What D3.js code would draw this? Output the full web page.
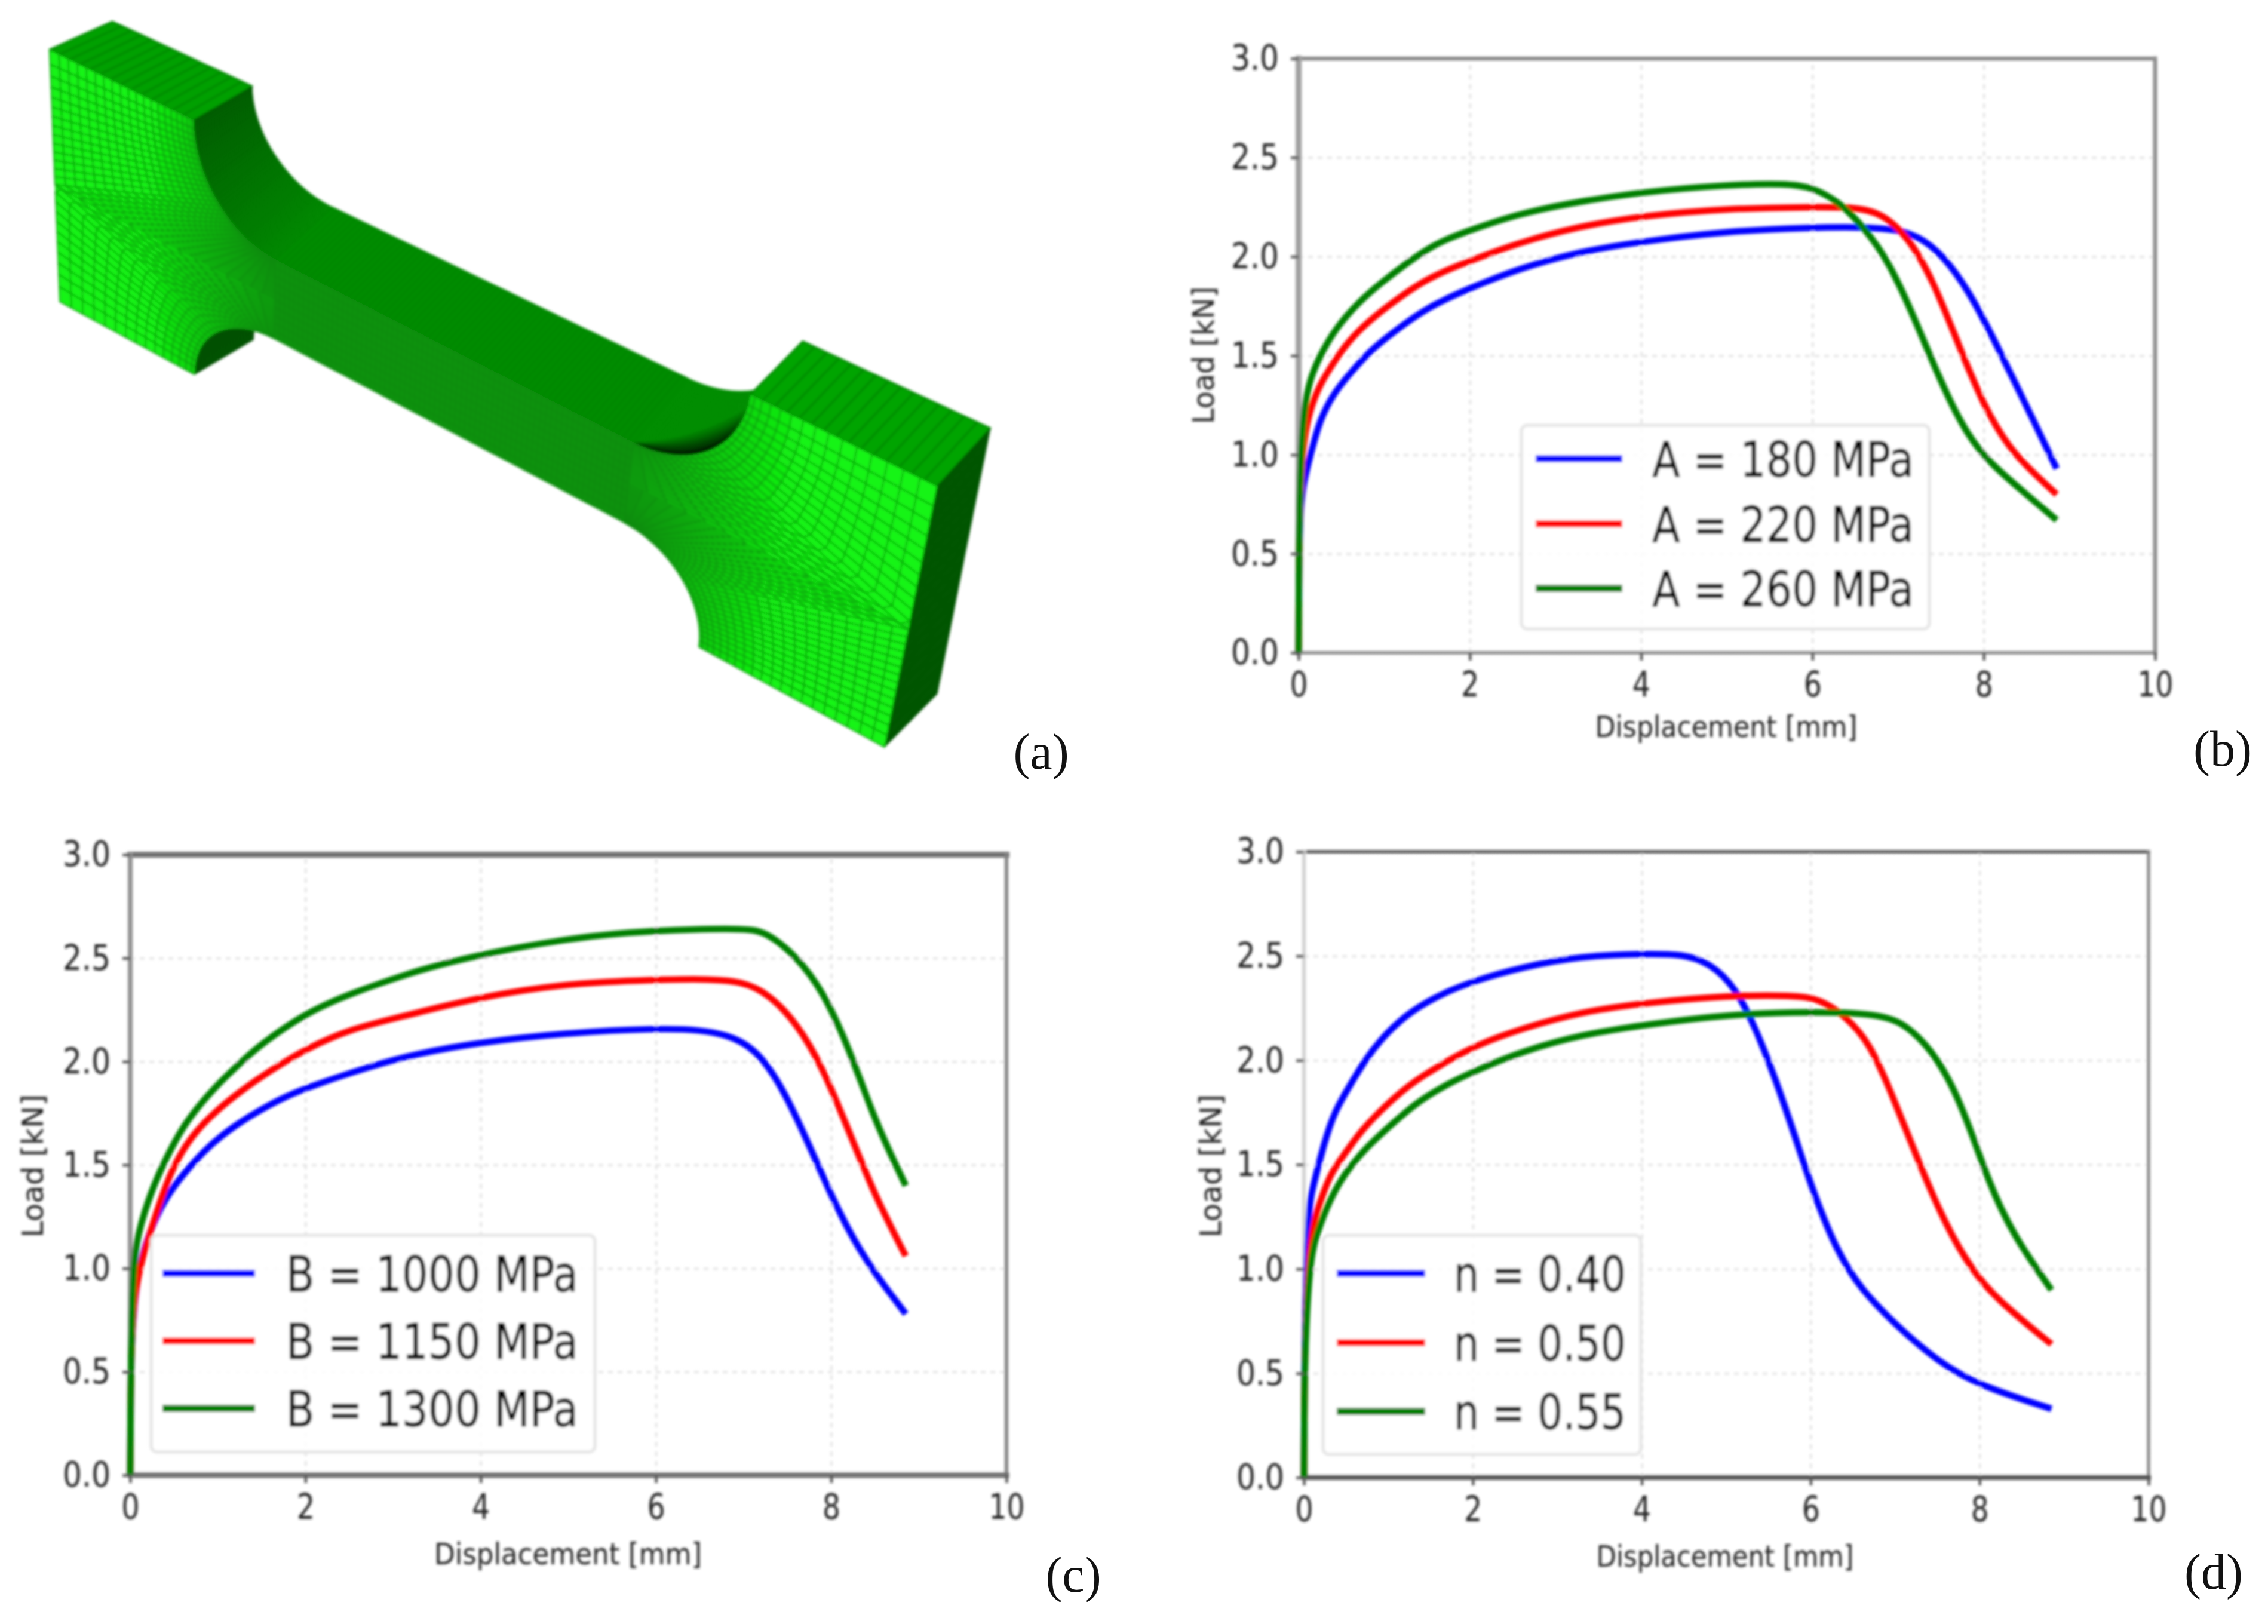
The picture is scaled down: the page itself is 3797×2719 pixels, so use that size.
<!DOCTYPE html>
<html>
<head>
<meta charset="utf-8">
<script src="https://cdn.jsdelivr.net/npm/d3@7"></script>
<style>
html, body { margin: 0; padding: 0; background: #fff; }
svg { display: block; }
</style>
</head>
<body>
<script>
// ticks shared by the three plots
var xTicks = [0, 2, 4, 6, 8, 10];
var yTicks = [0, 0.5, 1, 1.5, 2, 2.5, 3];

// panel (b), yield stress A
var labelsA = ['A = 180 MPa', 'A = 220 MPa', 'A = 260 MPa'];
var dispA180 = [0, 0.005, 0.015, 0.05, 0.14, 0.25, 0.41, 0.6, 0.835, 1.1, 1.5, 1.98, 2.57, 3.24, 3.9, 5, 6, 6.5, 7, 7.3, 7.6, 7.9, 8.2, 8.5, 8.85];
var loadA180 = [0, 0.4, 0.7, 0.85, 1, 1.18, 1.31, 1.41, 1.525, 1.617, 1.744, 1.837, 1.94, 2.02, 2.07, 2.13, 2.147, 2.15, 2.14, 2.09, 1.97, 1.77, 1.51, 1.245, 0.93];
var dispA220 = [0, 0.005, 0.015, 0.04, 0.1, 0.22, 0.355, 0.54, 0.755, 1.02, 1.5, 1.98, 2.57, 3.24, 4.01, 5, 6, 6.5, 6.8, 7.1, 7.4, 7.7, 8, 8.3, 8.6, 8.85];
var loadA220 = [0, 0.45, 0.75, 1, 1.18, 1.33, 1.43, 1.55, 1.65, 1.744, 1.894, 1.975, 2.07, 2.15, 2.206, 2.243, 2.25, 2.25, 2.22, 2.11, 1.89, 1.56, 1.245, 1.03, 0.9, 0.8];
var dispA260 = [0, 0.005, 0.015, 0.06, 0.14, 0.25, 0.435, 0.7, 0.97, 1.24, 1.61, 1.98, 2.57, 3.24, 4.01, 5, 5.7, 6, 6.3, 6.6, 6.9, 7.2, 7.5, 7.8, 8.1, 8.5, 8.85];
var loadA260 = [0, 0.5, 0.9, 1.24, 1.39, 1.5, 1.64, 1.77, 1.87, 1.96, 2.07, 2.13, 2.217, 2.275, 2.327, 2.363, 2.37, 2.35, 2.28, 2.15, 1.97, 1.68, 1.365, 1.1, 0.945, 0.8, 0.67];

// panel (c), hardening modulus B
var labelsB = ['B = 1000 MPa', 'B = 1150 MPa', 'B = 1300 MPa'];
var dispB1000 = [0, 0.005, 0.015, 0.05, 0.107, 0.25, 0.43, 0.616, 0.824, 1.03, 1.37, 1.74, 2, 2.52, 3.17, 3.93, 5, 6, 6.5, 6.9, 7.2, 7.5, 7.8, 8.1, 8.4, 8.85];
var loadB1000 = [0, 0.4, 0.65, 0.85, 1.03, 1.21, 1.36, 1.46, 1.56, 1.64, 1.74, 1.825, 1.87, 1.948, 2.03, 2.09, 2.14, 2.16, 2.155, 2.12, 2.035, 1.83, 1.545, 1.26, 1.03, 0.78];
var dispB1150 = [0, 0.005, 0.015, 0.05, 0.17, 0.3, 0.46, 0.69, 1, 1.27, 1.61, 2, 2.52, 3.17, 3.93, 5, 6, 6.5, 7, 7.3, 7.6, 7.9, 8.2, 8.5, 8.85];
var loadB1150 = [0, 0.4, 0.65, 0.9, 1.1, 1.27, 1.47, 1.64, 1.77, 1.86, 1.96, 2.06, 2.16, 2.224, 2.307, 2.38, 2.395, 2.4, 2.39, 2.32, 2.19, 1.975, 1.665, 1.35, 1.06];
var dispB1300 = [0, 0.005, 0.015, 0.04, 0.12, 0.22, 0.355, 0.51, 0.69, 0.955, 1.22, 1.48, 2, 2.52, 3.17, 3.69, 5, 6, 7, 7.25, 7.6, 7.9, 8.2, 8.5, 8.85];
var loadB1300 = [0, 0.4, 0.7, 1.075, 1.21, 1.35, 1.484, 1.617, 1.74, 1.87, 1.98, 2.08, 2.235, 2.33, 2.425, 2.49, 2.6, 2.635, 2.645, 2.63, 2.51, 2.345, 2.07, 1.71, 1.4];

// panel (d), hardening exponent n
var labelsN = ['n = 0.40', 'n = 0.50', 'n = 0.55'];
var dispN40 = [0, 0.005, 0.015, 0.057, 0.1, 0.18, 0.26, 0.37, 0.53, 0.72, 0.91, 1.18, 1.53, 1.99, 2.61, 3.29, 3.97, 4.5, 4.8, 5.1, 5.4, 5.7, 6, 6.3, 6.6, 7, 7.5, 8, 8.85];
var loadN40 = [0, 0.45, 0.8, 1.3, 1.38, 1.51, 1.63, 1.76, 1.87, 2, 2.1, 2.21, 2.3, 2.38, 2.45, 2.5, 2.51, 2.51, 2.466, 2.36, 2.11, 1.78, 1.4, 1.09, 0.9, 0.735, 0.557, 0.44, 0.33];
var dispN50 = [0, 0.005, 0.015, 0.07, 0.18, 0.31, 0.48, 0.67, 0.99, 1.32, 1.67, 2.02, 2.61, 3.29, 4.08, 5, 5.8, 6.1, 6.4, 6.7, 7, 7.3, 7.6, 7.9, 8.2, 8.85];
var loadN50 = [0, 0.4, 0.7, 1.16, 1.31, 1.456, 1.55, 1.66, 1.795, 1.905, 1.99, 2.07, 2.157, 2.234, 2.277, 2.31, 2.312, 2.295, 2.217, 2.087, 1.8, 1.49, 1.21, 1, 0.855, 0.64];
var dispN55 = [0, 0.005, 0.015, 0.07, 0.18, 0.31, 0.48, 0.72, 0.99, 1.32, 1.67, 2.02, 2.61, 3.29, 4.08, 5, 6, 6.9, 7.2, 7.5, 7.8, 8.1, 8.4, 8.85];
var loadN55 = [0, 0.4, 0.65, 1.06, 1.2, 1.335, 1.456, 1.576, 1.675, 1.795, 1.88, 1.95, 2.047, 2.124, 2.173, 2.22, 2.234, 2.224, 2.146, 2.015, 1.78, 1.42, 1.16, 0.9];

var colors = ['#0000ff', '#ff0000', '#007f00'];

var svg = d3.select('body').append('svg').attr('width', 3797).attr('height', 2719).attr('viewBox', '0 0 3797 2719');
svg.append('rect').attr('width', 3797).attr('height', 2719).attr('fill', '#fff');

// the source figure is a soft upscaled raster
var blur = svg.append('filter').attr('id', 'soft').attr('filterUnits', 'userSpaceOnUse')
    .attr('x', 0).attr('y', 0).attr('width', 3797).attr('height', 2719);
blur.append('feGaussianBlur').attr('stdDeviation', 2.2);

var fig = svg.append('g').attr('filter', 'url(#soft)');

// --- panel (a): meshed dog bone, front and back faces are two homographies
function homography(c) {
  // unit square to quad, c = [p00, p10, p11, p01] with p(u, v)
  var dx1 = c[1][0] - c[2][0], dx2 = c[3][0] - c[2][0], sx = c[0][0] - c[1][0] + c[2][0] - c[3][0],
      dy1 = c[1][1] - c[2][1], dy2 = c[3][1] - c[2][1], sy = c[0][1] - c[1][1] + c[2][1] - c[3][1],
      det = dx1 * dy2 - dx2 * dy1,
      g = (sx * dy2 - dx2 * sy) / det,
      h = (dx1 * sy - sx * dy1) / det,
      a = c[1][0] - c[0][0] + g * c[1][0], b = c[3][0] - c[0][0] + h * c[3][0],
      d = c[1][1] - c[0][1] + g * c[1][1], e = c[3][1] - c[0][1] + h * c[3][1];
  return function(p) {
    var w = g * p[0] + h * p[1] + 1;
    return [(a * p[0] + b * p[1] + c[0][0]) / w, (d * p[0] + e * p[1] + c[0][1]) / w];
  };
}
var front = homography([[83, 83], [1569, 814], [1481, 1251], [100, 505]]);
var back = homography([[188, 36], [1658, 717], [1569, 1162], [205, 455]]);

var uTabL = 0.185, uGaugeL = 0.288, uGaugeR = 0.705, uTabRTop = 0.815, uTabRBot = 0.8,
    vTop = 0.37, vBot = 0.68, vMid = 0.525, backTop = 0.84;

function arcPoint(uTab, uGauge, vEdge, vGauge, s) {
  var t = s * Math.PI / 2;
  return [uGauge + (uTab - uGauge) * Math.cos(t), vEdge + (vGauge - vEdge) * Math.sin(t)];
}
function outerPoint(uEdge, uGauge, vEdge, s) {
  if (s <= 0.5) return [uEdge, vEdge + (vMid - vEdge) * 2 * s];
  return [uEdge + (uGauge - uEdge) * (2 * s - 1), vMid];
}
// structured patch between the fillet arc and the L shaped outer edge
function halfMesh(uEdge, uTab, uGauge, vEdge, vGauge, ns, nk) {
  var quads = [];
  function model(i, j) {
    var s = Math.pow(i / ns, 0.85), k = Math.pow(j / nk, 1.35);
    var a = arcPoint(uTab, uGauge, vEdge, vGauge, s), o = outerPoint(uEdge, uGauge, vEdge, s);
    return [a[0] + (o[0] - a[0]) * k, a[1] + (o[1] - a[1]) * k];
  }
  for (var i = 0; i < ns; i++) for (var j = 0; j < nk; j++) {
    var m = model(i + 0.5, j + 0.5);
    // bright towards the free end, mesh gets denser and darker near the gauge
    var dist = Math.abs(m[0] - uGauge) / Math.abs(uEdge - uGauge);
    quads.push({ pts: [front(model(i, j)), front(model(i + 1, j)), front(model(i + 1, j + 1)), front(model(i, j + 1))], shade: Math.min(1, 0.15 + 1.5 * dist) });
  }
  return quads;
}
function sideStrip(pathFn, n, fillFn, line, backScale, depthFn) {
  // surface across the thickness, between a curve on the front and the same curve on the back
  var quads = [], sc = backScale || 1;
  function far(p, s) {
    var f = front(p), b = back([p[0], p[1] * sc]), dp = depthFn ? depthFn(s) : 1;
    return [f[0] + (b[0] - f[0]) * dp, f[1] + (b[1] - f[1]) * dp];
  }
  for (var i = 0; i < n; i++) {
    var p = pathFn(i / n), q = pathFn((i + 1) / n);
    quads.push({ pts: [front(p), front(q), far(q, (i + 1) / n), far(p, i / n)], fill: typeof fillFn == 'function' ? fillFn(i / n) : fillFn, line: line });
  }
  return quads;
}
function quadPath(d) { return 'M' + d.pts.map(function(p) { return p[0].toFixed(1) + ',' + p[1].toFixed(1); }).join('L') + 'Z'; }

var spec = fig.append('g').attr('class', 'specimen');
function drawQuads(data, width) {
  spec.append('g').selectAll('path').data(data).enter().append('path')
    .attr('d', quadPath)
    .attr('fill', function(d) { return d.fill; })
    .attr('stroke', function(d) { return d.line || d.fill; })
    .attr('stroke-width', width)
    .attr('stroke-linejoin', 'round');
}

drawQuads(sideStrip(function(s) { return [uTabL * s, 0]; }, 14, '#00a000', '#008800'), 3);
drawQuads(sideStrip(function(s) { return arcPoint(uTabL, uGaugeL, 0, vTop, s); }, 40, d3.scaleLinear().domain([0, 1]).range(['#005c00', '#008800']), null, backTop), 1);
drawQuads(sideStrip(function(s) { return [uGaugeL + (uGaugeR - uGaugeL) * s, vTop]; }, 70, '#008c00', '#008300', backTop), 1.5);
drawQuads(sideStrip(function(s) { return arcPoint(uTabRTop, uGaugeR, 0, vTop, s); }, 40, '#008c00', null, backTop), 1);
// the right fillet only goes dark close to the front edge, the band tapers out towards the gauge
var fadeDepth = [0.7, 0.55, 0.42, 0.3, 0.18, 0.09];
var fadeColor = ['#007c00', '#006a00', '#005600', '#004200', '#002e00', '#001800'];
fadeDepth.forEach(function(dp, i) {
  drawQuads(sideStrip(function(s) { return arcPoint(uTabRTop, uGaugeR, 0, vTop, s); }, 40, fadeColor[i], null, backTop,
    function(s) { return dp * Math.min(1, (1 - s) / 0.55); }), 1);
});
drawQuads(sideStrip(function(s) { return [uTabRTop + (1 - uTabRTop) * s, 0]; }, 15, '#00a400', '#008800'), 3);
drawQuads(sideStrip(function(s) { return [1, s]; }, 20, '#005500', '#005500'), 1);
drawQuads(sideStrip(function(s) { return arcPoint(uTabL, uGaugeL, 1, vBot, s); }, 40, '#005200', '#004c00'), 1);

function brightQuads(q) {
  q.forEach(function(d) {
    d.fill = d3.interpolateRgb('#0c900c', '#12f412')(d.shade);
    d.line = d3.interpolateRgb('#0a880a', '#0aa00a')(d.shade);
  });
  return q;
}
// under the mesh, hides the hairline where the two halves meet
function block(u0, u1, v0, v1, fill) {
  return [{ pts: [front([u0, v0]), front([u1, v0]), front([u1, v1]), front([u0, v1])], fill: fill }];
}
drawQuads(block(0, uTabL, 0.35, 0.7, '#12e012'), 1);
drawQuads(block(uTabRBot, 1, 0.35, 0.7, '#12e012'), 1);
drawQuads(brightQuads(halfMesh(0, uTabL, uGaugeL, 0, vTop, 32, 20)), 2.2);
drawQuads(brightQuads(halfMesh(0, uTabL, uGaugeL, 1, vBot, 24, 15)), 2);
drawQuads(brightQuads(halfMesh(1, uTabRTop, uGaugeR, 0, vTop, 24, 15)), 2);
drawQuads(brightQuads(halfMesh(1, uTabRBot, uGaugeR, 1, vBot, 32, 20)), 2.2);

// gauge section of the front face
var gaugeQuads = [];
for (var gi = 0; gi < 70; gi++) for (var gj = 0; gj < 10; gj++) {
  var u0 = uGaugeL + (uGaugeR - uGaugeL) * gi / 70, u1 = uGaugeL + (uGaugeR - uGaugeL) * (gi + 1) / 70,
      v0 = vTop + (vBot - vTop) * gj / 10, v1 = vTop + (vBot - vTop) * (gj + 1) / 10;
  gaugeQuads.push({ pts: [front([u0, v0]), front([u1, v0]), front([u1, v1]), front([u0, v1])], fill: '#0c920c', line: '#0b8a0b' });
}
drawQuads(gaugeQuads, 1.5);

// --- plots
function drawPlot(o) {
  var x = d3.scaleLinear().domain([0, 10]).range([o.left, o.right]);
  var y = d3.scaleLinear().domain([0, 3]).range([o.bottom, o.top]);
  var g = fig.append('g').attr('class', 'plot');
  var gridStyle = function(s) { s.select('.domain').remove(); s.selectAll('line').attr('stroke', '#e2e2e2').attr('stroke-width', 3.5).attr('stroke-dasharray', '8,8'); };

  // grid
  g.append('g').attr('transform', 'translate(0,' + o.bottom + ')')
    .call(d3.axisBottom(x).tickValues(xTicks).tickSize(o.top - o.bottom).tickFormat(''))
    .call(gridStyle);
  g.append('g').attr('transform', 'translate(' + o.left + ',0)')
    .call(d3.axisLeft(y).tickValues(yTicks).tickSize(o.left - o.right).tickFormat(''))
    .call(gridStyle);

  // frame
  var sides = [
    { a: [o.left, o.top], b: [o.right, o.top], s: o.frame[0] },
    { a: [o.right, o.top], b: [o.right, o.bottom], s: o.frame[1] },
    { a: [o.left, o.bottom], b: [o.right, o.bottom], s: o.frame[2] },
    { a: [o.left, o.top], b: [o.left, o.bottom], s: o.frame[3] }
  ];
  g.selectAll('line.spine').data(sides).enter().append('line').attr('class', 'spine')
    .attr('x1', function(d) { return d.a[0]; }).attr('y1', function(d) { return d.a[1]; })
    .attr('x2', function(d) { return d.b[0]; }).attr('y2', function(d) { return d.b[1]; })
    .attr('stroke', function(d) { return d.s[0]; }).attr('stroke-width', function(d) { return d.s[1]; })
    .attr('stroke-linecap', 'square');

  // curves
  var line = d3.line().x(function(d) { return x(d[0]); }).y(function(d) { return y(d[1]); }).curve(d3.curveBasis);
  o.series.forEach(function(s, i) {
    g.append('path').datum(d3.zip(s[0], s[1]))
      .attr('d', line).attr('fill', 'none').attr('stroke', colors[i]).attr('stroke-width', 11);
  });

  // axes
  var yAxis = g.append('g').attr('transform', 'translate(' + o.left + ',0)')
    .call(d3.axisLeft(y).tickValues(yTicks).tickSize(13).tickPadding(o.yPad).tickFormat(d3.format('.1f')));
  var xAxis = g.append('g').attr('transform', 'translate(0,' + o.bottom + ')')
    .call(d3.axisBottom(x).tickValues(xTicks).tickSize(13).tickPadding(o.xPad));
  [yAxis, xAxis].forEach(function(a) {
    a.select('.domain').remove();
    a.selectAll('line').attr('stroke', '#555').attr('stroke-width', 4.5);
    a.selectAll('text').attr('fill', '#222').style('font-family', 'DejaVu Sans').style('font-size', '59px');
  });
  yAxis.selectAll('text').attr('textLength', 80).attr('lengthAdjust', 'spacingAndGlyphs');
  xAxis.selectAll('text').attr('textLength', function(d) { return d == 10 ? 60 : 30; }).attr('lengthAdjust', 'spacingAndGlyphs');

  // axis titles
  g.append('text').attr('x', o.xTitle[0]).attr('y', o.xTitle[1]).attr('text-anchor', 'middle')
    .attr('textLength', o.xTitle[2]).attr('lengthAdjust', 'spacingAndGlyphs')
    .attr('fill', '#222').style('font-family', 'DejaVu Sans').style('font-size', '50px').text('Displacement [mm]');
  g.append('text').attr('transform', 'translate(' + o.yTitle[0] + ',' + o.yTitle[1] + ') rotate(-90)').attr('text-anchor', 'middle')
    .attr('textLength', o.yTitle[2]).attr('lengthAdjust', 'spacingAndGlyphs')
    .attr('fill', '#222').style('font-family', 'DejaVu Sans').style('font-size', '50px').text('Load [kN]');

  // legend
  var lg = o.legend;
  g.append('rect').attr('x', lg.box[0]).attr('y', lg.box[1]).attr('width', lg.box[2] - lg.box[0]).attr('height', lg.box[3] - lg.box[1])
    .attr('rx', 10).attr('fill', '#fff').attr('fill-opacity', 0.85).attr('stroke', '#e4e4e4').attr('stroke-width', 5);
  o.labels.forEach(function(t, i) {
    g.append('line').attr('x1', lg.line[0]).attr('x2', lg.line[1]).attr('y1', lg.rows[i]).attr('y2', lg.rows[i])
      .attr('stroke', colors[i]).attr('stroke-width', 12);
    g.append('text').attr('x', lg.text[0]).attr('y', lg.rows[i]).attr('dy', '0.36em')
      .attr('textLength', lg.text[1] - lg.text[0]).attr('lengthAdjust', 'spacingAndGlyphs')
      .attr('fill', '#000').attr('stroke', '#000').attr('stroke-width', 0.8)
      .style('font-family', 'DejaVu Sans').style('font-size', '82px').text(t);
  });
}

drawPlot({
  left: 2174, right: 3608, top: 98, bottom: 1093, yPad: 20, xPad: 18,
  frame: [['#808080', 6], ['#8c8c8c', 7], ['#808080', 5], ['#a0a0a0', 10]],
  xTitle: [2890, 1234, 439], yTitle: [2032, 595, 230],
  series: [[dispA180, loadA180], [dispA220, loadA220], [dispA260, loadA260]], labels: labelsA,
  legend: { box: [2547, 712, 3230, 1053], line: [2571, 2716], rows: [768, 877, 985], text: [2766, 3204] }
});
drawPlot({
  left: 218, right: 1685, top: 1431, bottom: 2470, yPad: 20, xPad: 18,
  frame: [['#707070', 10], ['#808080', 6], ['#707070', 9], ['#909090', 8]],
  xTitle: [951, 2619, 448], yTitle: [72, 1952, 240],
  series: [[dispB1000, loadB1000], [dispB1150, loadB1150], [dispB1300, loadB1300]], labels: labelsB,
  legend: { box: [253, 2068, 996, 2431], line: [272, 427], rows: [2132, 2245, 2358], text: [479, 968] }
});
drawPlot({
  left: 2183, right: 3597, top: 1426, bottom: 2474, yPad: 20, xPad: 18,
  frame: [['#444444', 5], ['#808080', 5], ['#555555', 8], ['#d0d0d0', 6]],
  xTitle: [2888, 2623, 431], yTitle: [2044, 1952, 240],
  series: [[dispN40, loadN40], [dispN50, loadN50], [dispN55, loadN55]], labels: labelsN,
  legend: { box: [2215, 2068, 2747, 2435], line: [2238, 2386], rows: [2132, 2248, 2363], text: [2434, 2722] }
});

// panel letters stay sharp, they were set on top of the rasters
var letters = ['(a)', '(b)', '(c)', '(d)'];
var letterX = [1743, 3721, 1797, 3706];
var letterY = [1287, 1282, 2665, 2660];
svg.selectAll('text.letter').data(letters).enter().append('text').attr('class', 'letter')
  .attr('x', function(d, i) { return letterX[i]; })
  .attr('y', function(d, i) { return letterY[i]; })
  .attr('text-anchor', 'middle').attr('fill', '#111')
  .style('font-family', 'Liberation Serif').style('font-size', '84px')
  .text(function(d) { return d; });
</script>
</body>
</html>
